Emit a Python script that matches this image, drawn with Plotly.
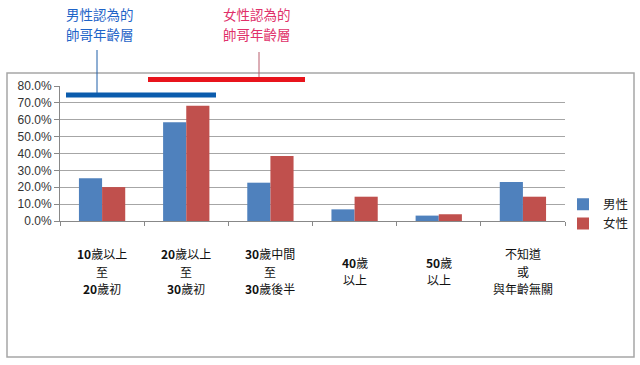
import plotly.graph_objects as go

categories = ["10歲以上 至 20歲初", "20歲以上 至 30歲初", "30歲中間 至 30歲後半",
              "40歲 以上", "50歲 以上", "不知道 或 與年齡無關"]
tick_labels = [["<b>10</b>歲以上", "至", "<b>20</b>歲初"],
               ["<b>20</b>歲以上", "至", "<b>30</b>歲初"],
               ["<b>30</b>歲中間", "至", "<b>30</b>歲後半"],
               ["<b>40</b>歲", "以上"],
               ["<b>50</b>歲", "以上"],
               ["不知道", "或", "與年齡無關"]]
men = [25.3, 58.5, 22.7, 6.9, 3.2, 23.1]
women = [20.1, 68.3, 38.5, 14.4, 4.0, 14.4]
y_ticks = [0, 10, 20, 30, 40, 50, 60, 70, 80]
y_tick_text = [f"{v:.1f}%" for v in y_ticks]
men_note = ["男性認為的", "帥哥年齡層"]
women_note = ["女性認為的", "帥哥年齡層"]

CJK = "Noto Sans CJK TC"

fig = go.Figure()
fig.add_trace(go.Bar(x=categories, y=men, name="男性", marker=dict(color="#4f81bd", line=dict(width=0))))
fig.add_trace(go.Bar(x=categories, y=women, name="女性", marker=dict(color="#c0504d", line=dict(width=0))))

L, R, T, B = 60, 75, 86, 144
W, H = 640, 365
pw, ph = W - L - R, H - T - B

def px(x):
    return (x - L) / pw

def py(y):
    return (H - B - y) / ph

shapes = [
    # outer frame
    dict(type="rect", xref="paper", yref="paper", x0=px(7), x1=px(634), y0=py(357), y1=py(73),
         line=dict(color="#a6a6a6", width=1.5), layer="below"),
    # blue range bar and pointer
    dict(type="line", xref="paper", yref="paper", x0=px(97), x1=px(97), y0=py(95), y1=py(50),
         line=dict(color="#1f5fa8", width=1)),
    dict(type="line", xref="paper", yref="paper", x0=px(66), x1=px(216), y0=py(95), y1=py(95),
         line=dict(color="#0b5cad", width=5)),
    # red range bar and pointer
    dict(type="line", xref="paper", yref="paper", x0=px(259), x1=px(259), y0=py(79.5), y1=py(52),
         line=dict(color="#b85c6c", width=1)),
    dict(type="line", xref="paper", yref="paper", x0=px(148), x1=px(305), y0=py(79.5), y1=py(79.5),
         line=dict(color="#e8141c", width=5)),
]

annotations = []
for note, xc, col in [(men_note, 100, "#1f64c8"), (women_note, 257, "#e0306a")]:
    for i, txt in enumerate(note):
        annotations.append(dict(xref="paper", yref="paper", x=px(xc), y=py(14 + 20 * i), text=txt,
                                showarrow=False, xanchor="center", yanchor="middle", borderpad=0,
                                font=dict(family=CJK, size=13.5, color=col)))

center_y = 271
line_h = 17.5
for cat, lines in zip(categories, tick_labels):
    n = len(lines)
    for j, line in enumerate(lines):
        yy = center_y + (j - (n - 1) / 2) * line_h
        annotations.append(dict(xref="x", yref="paper", x=cat, y=py(yy), text=line, showarrow=False,
                                xanchor="center", yanchor="middle", align="center", borderpad=0,
                                font=dict(family=CJK, size=12, color="#111111")))

fig.update_layout(
    width=W, height=H,
    margin=dict(l=L, r=R, t=T, b=B, autoexpand=False),
    paper_bgcolor="white", plot_bgcolor="white",
    barmode="group", bargap=0.45, bargroupgap=0,
    showlegend=True,
    legend=dict(x=px(563), y=py(214), xanchor="left", yanchor="middle",
                font=dict(family=CJK, size=12.5, color="#222222"), tracegroupgap=0,
                itemwidth=30, bgcolor="rgba(0,0,0,0)"),
    shapes=shapes, annotations=annotations,
    xaxis=dict(showticklabels=False, ticks="outside", tickson="boundaries", ticklen=4,
               tickcolor="#888888", showline=True, linecolor="#888888", linewidth=1,
               showgrid=False),
    yaxis=dict(range=[0, 80], tickvals=y_ticks, ticktext=y_tick_text, ticks="outside", ticklen=5,
               tickcolor="#888888", showline=True, linecolor="#888888", linewidth=1,
               showgrid=True, gridcolor="#a6a6a6", gridwidth=1, zeroline=False,
               tickfont=dict(family="Liberation Sans", size=12, color="#333333")),
)

fig.write_html("out.html", config={"displayModeBar": False},
               post_script="document.body.style.margin='0';")
